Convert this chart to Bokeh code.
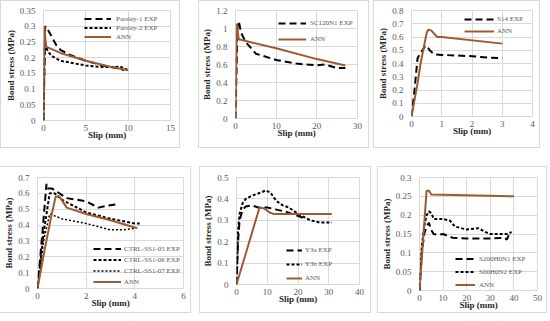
from bokeh.plotting import figure
from bokeh.layouts import column, row
from bokeh.models import Range1d, FixedTicker, NumeralTickFormatter, Legend, LegendItem
from bokeh.embed import file_html
from bokeh.resources import INLINE

# ---------------- data ----------------
# Panel 1
p1_x_ticks = [0, 5, 10, 15]
p1_y_ticks = [0, 0.05, 0.1, 0.15, 0.2, 0.25, 0.3, 0.35]
parsley1_x = [0, 0.2, 0.5, 1, 1.5, 2, 3, 5, 7, 9, 9.5]
parsley1_y = [0, 0.30, 0.29, 0.265, 0.24, 0.225, 0.21, 0.19, 0.175, 0.165, 0.16]
parsley2_x = [0, 0.15, 0.5, 1, 2, 3, 5, 7, 8.5, 9, 10]
parsley2_y = [0, 0.25, 0.22, 0.205, 0.19, 0.185, 0.175, 0.17, 0.17, 0.172, 0.16]
ann1_x = [0, 0.1, 0.3, 2, 5, 8, 10]
ann1_y = [0, 0.30, 0.235, 0.215, 0.19, 0.17, 0.16]

# Panel 2
p2_x_ticks = [0, 10, 20, 30]
p2_y_ticks = [0, 0.2, 0.4, 0.6, 0.8, 1, 1.2]
sc120_x = [0, 0.5, 0.8, 1.4, 2.5, 5, 10, 15, 20, 22, 25, 27]
sc120_y = [0, 1.05, 1.08, 0.95, 0.85, 0.72, 0.65, 0.61, 0.59, 0.60, 0.56, 0.56]
ann2_x = [0, 0.3, 0.8, 10, 20, 27]
ann2_y = [0, 1.05, 0.88, 0.78, 0.66, 0.59]

# Panel 3
p3_x_ticks = [0, 1, 2, 3, 4]
p3_y_ticks = [0, 0.1, 0.2, 0.3, 0.4, 0.5, 0.6, 0.7, 0.8]
s14_x = [0, 0.1, 0.2, 0.3, 0.45, 0.5, 0.6, 0.75, 1, 1.5, 2, 2.5, 3]
s14_y = [0, 0.2, 0.44, 0.48, 0.53, 0.535, 0.5, 0.47, 0.465, 0.46, 0.455, 0.445, 0.44]
ann3_x = [0, 0.2, 0.3, 0.5, 0.55, 0.65, 0.85, 1, 3]
ann3_y = [0, 0.25, 0.4, 0.63, 0.655, 0.65, 0.6, 0.6, 0.55]

# Panel 4
p4_x_ticks = [0, 2, 4, 6]
p4_y_ticks = [0, 0.1, 0.2, 0.3, 0.4, 0.5, 0.6, 0.7]
ctrl05_x = [0, 0.2, 0.37, 0.4, 0.6, 1.2, 2, 2.5, 2.8, 3.2]
ctrl05_y = [0, 0.35, 0.66, 0.63, 0.63, 0.57, 0.55, 0.51, 0.52, 0.53]
ctrl06_x = [0, 0.25, 0.5, 0.7, 1, 1.5, 2, 3, 4, 4.2]
ctrl06_y = [0, 0.35, 0.6, 0.6, 0.56, 0.52, 0.48, 0.44, 0.41, 0.41]
ctrl07_x = [0, 0.25, 0.5, 1, 2, 3, 3.5, 4]
ctrl07_y = [0, 0.3, 0.47, 0.44, 0.41, 0.37, 0.37, 0.38]
ann4_x = [0, 0.3, 0.6, 0.75, 0.9, 1.2, 2, 3, 4.1]
ann4_y = [0, 0.25, 0.48, 0.58, 0.58, 0.51, 0.47, 0.43, 0.38]

# Panel 5
p5_x_ticks = [0, 10, 20, 30, 40]
p5_y_ticks = [0, 0.1, 0.2, 0.3, 0.4, 0.5]
y3a_x = [0, 0.5, 1, 2, 3, 5, 7, 10, 13, 16, 20, 22]
y3a_y = [0, 0.2, 0.3, 0.35, 0.365, 0.37, 0.36, 0.36, 0.35, 0.34, 0.32, 0.31]
y3b_x = [0, 0.5, 1, 2, 3, 5, 8, 9.5, 11, 13, 15, 17, 20, 24, 27, 31]
y3b_y = [0, 0.25, 0.33, 0.38, 0.40, 0.415, 0.43, 0.44, 0.43, 0.39, 0.37, 0.36, 0.33, 0.30, 0.29, 0.29]
ann5_x = [0, 7.5, 9, 11, 12, 31]
ann5_y = [0, 0.36, 0.355, 0.335, 0.33, 0.33]

# Panel 6
p6_x_ticks = [0, 10, 20, 30, 40, 50]
p6_y_ticks = [0, 0.05, 0.1, 0.15, 0.2, 0.25, 0.3]
s200_x = [0, 1, 2, 3, 4, 5, 6, 8, 10, 12, 14, 20, 30, 36, 37, 38, 39]
s200_y = [0, 0.1, 0.15, 0.17, 0.18, 0.16, 0.15, 0.148, 0.15, 0.145, 0.14, 0.138, 0.138, 0.14, 0.135, 0.15, 0.155]
s00_x = [0, 1, 2, 3, 4, 5, 6, 10, 13, 15, 18, 20, 25, 28, 30, 37, 39]
s00_y = [0, 0.12, 0.17, 0.2, 0.21, 0.205, 0.19, 0.19, 0.185, 0.17, 0.165, 0.162, 0.165, 0.155, 0.15, 0.15, 0.155]
ann6_x = [0, 3, 4, 5, 40]
ann6_y = [0, 0.265, 0.265, 0.255, 0.25]

# ---------------- styling ----------------
FONT = "Liberation Serif"
GRID = "#d9d9d9"
ANN_COLOR = "#9c5a33"
LONG = "7 4"
SHORT = "3 2"
DOT = "2 2"


def make_panel(w, h, left, top, fw, fh, xr, yr, xt, yt, series, leg):
    # w, h: outer box size incl. 1px border
    p = figure(frame_width=fw, frame_height=fh, output_backend="svg", toolbar_location=None,
               title=None,
               x_range=Range1d(*xr), y_range=Range1d(*yr),
               min_border_left=left - 1, min_border_top=top - 1,
               min_border_right=w - left - fw - 1, min_border_bottom=h - top - fh - 1,
               styles={"border": "1px solid #d9d9d9"})
    p.outline_line_color = GRID
    p.background_fill_color = "white"
    p.border_fill_color = "white"
    for ax in (p.xaxis[0], p.yaxis[0]):
        ax.axis_line_color = None
        ax.major_tick_line_color = None
        ax.minor_tick_line_color = None
        ax.major_tick_out = 0
        ax.major_tick_in = 0
        ax.minor_tick_out = 0
        ax.minor_tick_in = 0
        ax.major_label_text_font = FONT
        ax.major_label_text_font_size = "9px"
        ax.major_label_text_color = "#595959"
        ax.axis_label_text_font = FONT
        ax.axis_label_text_font_size = "9px"
        ax.axis_label_text_font_style = "bold"
        ax.axis_label_text_color = "#262626"
    p.xaxis.ticker = FixedTicker(ticks=xt)
    p.yaxis.ticker = FixedTicker(ticks=yt)
    p.xaxis.formatter = NumeralTickFormatter(format="0.[00]")
    p.yaxis.formatter = NumeralTickFormatter(format="0.[00]")
    p.xaxis.axis_label = "Slip (mm)"
    p.yaxis.axis_label = "Bond stress (MPa)"
    p.xaxis.major_label_standoff = 4
    p.xaxis.axis_label_standoff = -4
    p.yaxis.major_label_standoff = 8
    p.yaxis.axis_label_standoff = 1
    p.xgrid.grid_line_color = GRID
    p.ygrid.grid_line_color = GRID
    items = []
    for (label, xs, ys, color, dash, lw) in series:
        r = p.line(xs, ys, line_color=color, line_dash=dash, line_width=lw)
        items.append(LegendItem(label=label, renderers=[r]))
    lx, ly, eh, gw, so = leg
    legend = Legend(items=items, location=(lx, ly), orientation="vertical",
                    padding=0, spacing=0, margin=0, glyph_height=eh, label_height=eh,
                    glyph_width=gw, label_standoff=so,
                    label_text_font=FONT, label_text_font_size="7px",
                    label_text_color="#595959",
                    background_fill_alpha=0, border_line_color=None)
    p.add_layout(legend, "center")
    return p


p1 = make_panel(180, 148, 43, 10, 125, 108, (0, 15), (0, 0.35), p1_x_ticks, p1_y_ticks,
                [("Parsley-1 EXP", parsley1_x, parsley1_y, "black", LONG, 2),
                 ("Parsley-2 EXP", parsley2_x, parsley2_y, "black", SHORT, 2),
                 ("ANN", ann1_x, ann1_y, ANN_COLOR, "solid", 2)],
                (41, 79, 9, 27, 5))
p2 = make_panel(171, 148, 37, 10, 120, 106, (0, 30), (0, 1.2), p2_x_ticks, p2_y_ticks,
                [("SC120N1 EXP", sc120_x, sc120_y, "black", LONG, 2),
                 ("ANN", ann2_x, ann2_y, ANN_COLOR, "solid", 2)],
                (43, 71, 16, 28, 4))
p3 = make_panel(167, 148, 38, 8, 119, 104, (0, 4), (0, 0.8), p3_x_ticks, p3_y_ticks,
                [("S14 EXP", s14_x, s14_y, "black", LONG, 2),
                 ("ANN", ann3_x, ann3_y, ANN_COLOR, "solid", 2)],
                (53, 79, 12, 30, 3))
p4 = make_panel(192, 147, 38, 7, 144, 109, (0, 6), (0, 0.7), p4_x_ticks, p4_y_ticks,
                [("CTRL-SS1-05 EXP", ctrl05_x, ctrl05_y, "black", LONG, 2),
                 ("CTRL-SS1-06 EXP", ctrl06_x, ctrl06_y, "black", SHORT, 2),
                 ("CTRL-SS1-07 EXP", ctrl07_x, ctrl07_y, "black", DOT, 1.5),
                 ("ANN", ann4_x, ann4_y, ANN_COLOR, "solid", 2)],
                (56, 1, 11, 28, 3))
p5 = make_panel(172, 147, 37, 11, 121, 105, (0, 40), (0, 0.5), p5_x_ticks, p5_y_ticks,
                [("Y3a EXP", y3a_x, y3a_y, "black", LONG, 2),
                 ("Y3b EXP", y3b_x, y3b_y, "black", SHORT, 2),
                 ("ANN", ann5_x, ann5_y, ANN_COLOR, "solid", 2)],
                (50, -1, 14, 16, 3))
p6 = make_panel(164, 147, 36, 5, 116, 111, (0, 50), (0, 0.3), p6_x_ticks, p6_y_ticks,
                [("S200H0N1 EXP", s200_x, s200_y, "black", LONG, 2),
                 ("S00H0N2 EXP", s00_x, s00_y, "black", SHORT, 2),
                 ("ANN", ann6_x, ann6_y, ANN_COLOR, "solid", 2)],
                (36, -1, 13, 20, 4))

p1.margin = (0, 0, 0, 1)
p2.margin = (0, 0, 0, 18)
p3.margin = (0, 0, 0, 4)
p4.margin = (0, 0, 0, 0)
p5.margin = (0, 0, 0, 8)
p6.margin = (0, 0, 0, 6)

r1 = row(p1, p2, p3)
r2 = row(p4, p5, p6)
r2.margin = (18, 0, 0, 0)
layout = column(r1, r2)
layout.margin = (0, 0, -12, -1)

open("out.html", "w").write(file_html(layout, INLINE))
